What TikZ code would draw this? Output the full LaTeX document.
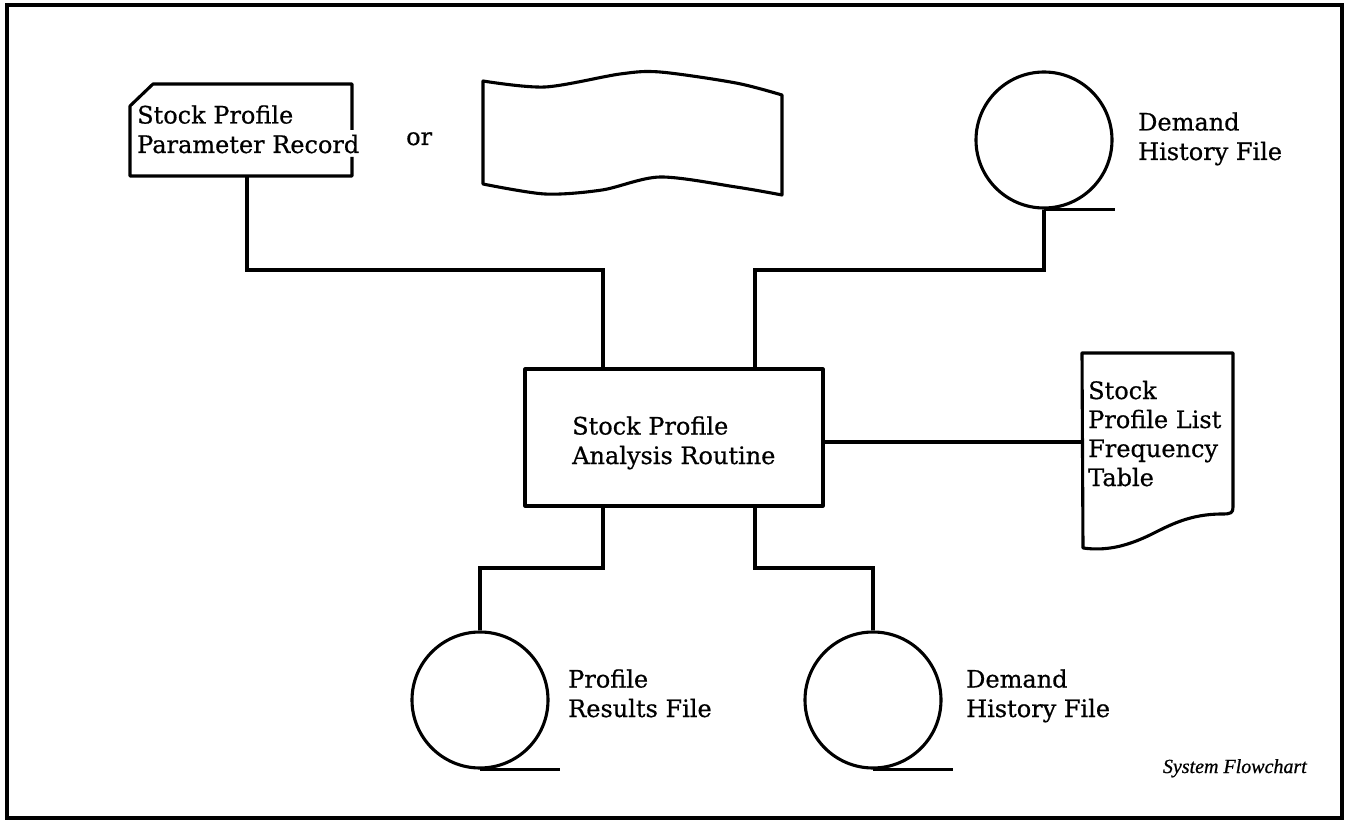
\documentclass[tikz,border=0pt]{standalone}
\usepackage{fontspec}
\setmainfont[FakeBold=0.6]{DejaVu Serif}
\newfontfamily\captionfont[FakeBold=0.8]{Liberation Serif Italic}
\begin{document}
\begin{tikzpicture}[x=1pt,y=-1pt,
  outline/.style={line width=3.1pt, line join=round},
  link/.style={line width=3.7pt},
  tape/.style={line width=2.4pt},
  reel/.style={draw, circle, outline, minimum size=136pt, inner sep=0pt},
  lbl/.style={inner sep=0pt, anchor=base west, align=left,
              font=\fontsize{24}{29.5}\selectfont},
]
\useasboundingbox (0,0) rectangle (1347,821);

% frame
\draw[line width=3.4pt] (7,5) rectangle (1342,818);

% punched card (input parameters); labels are placed by their last baseline
\draw[outline] (352,130) -- (352,84) -- (153,84) -- (130,106) -- (130,176)
               -- (352,176) -- (352,157);
\coordinate (cardfoot) at (247,176);
\node[lbl] (cardtext) at (137,153) {Stock Profile\\Parameter Record};

\node[lbl] (ortext) at (406,145) {or};

% punched tape (alternative input)
\draw[outline] plot[smooth] coordinates {(483,81) (545,87) (620,74) (660,72) (736,83) (782,95)}
   -- plot[smooth] coordinates {(782,195) (736,187) (660,177) (602,190) (545,194) (483,184)}
   -- cycle;

% demand history file (input)
\node[reel] (dhin) at (1044,140) {};
\draw[tape] (dhin.south) -- ++(71,0);
\node[lbl] (dhintext) at (1138,160) {Demand\\History File};

% processing routine
\node[draw, outline, minimum width=298pt, minimum height=137pt, inner sep=0pt]
  (proc) at (674,437.5) {};
\node[lbl] (proctext) at (572,464) {Stock Profile\\Analysis Routine};

% printed report
\draw[outline] (1082,353) -- (1233,353) -- (1233,507)
  .. controls (1233,513) and (1231,514) .. (1222,514)
  .. controls (1190,514) and (1170,525) .. (1150,535)
  .. controls (1125,547) and (1105,551) .. (1083,548)
  -- cycle;
\coordinate (docin) at (1082,442);
\node[lbl, font=\fontsize{24}{29}\selectfont] (doctext) at (1088,486)
  {Stock\\Profile List\\Frequency\\Table};

% output files
\node[reel] (prf) at (480,700) {};
\draw[tape] (prf.south) -- ++(80,0);
\node[lbl] (prftext) at (568,717) {Profile\\Results File};

\node[reel] (dhout) at (873,700) {};
\draw[tape] (dhout.south) -- ++(80,0);
\node[lbl] (dhouttext) at (966,717) {Demand\\History File};

% flow lines
\draw[link] (cardfoot) |- (603,270) -- (proc.north -| 603,0);
\draw[link] (dhin.south) |- (755,270) -- (proc.north -| 755,0);
\draw[link] (proc.east |- 0,442) -- (docin);
\draw[link] (proc.south -| 603,0) -- (603,568) -| (prf.north);
\draw[link] (proc.south -| 755,0) -- (755,568) -| (dhout.north);

\node[inner sep=0pt, anchor=base east, font=\captionfont\fontsize{20}{22}\selectfont]
  (caption) at (1307,773) {System Flowchart};
\end{tikzpicture}
\end{document}
